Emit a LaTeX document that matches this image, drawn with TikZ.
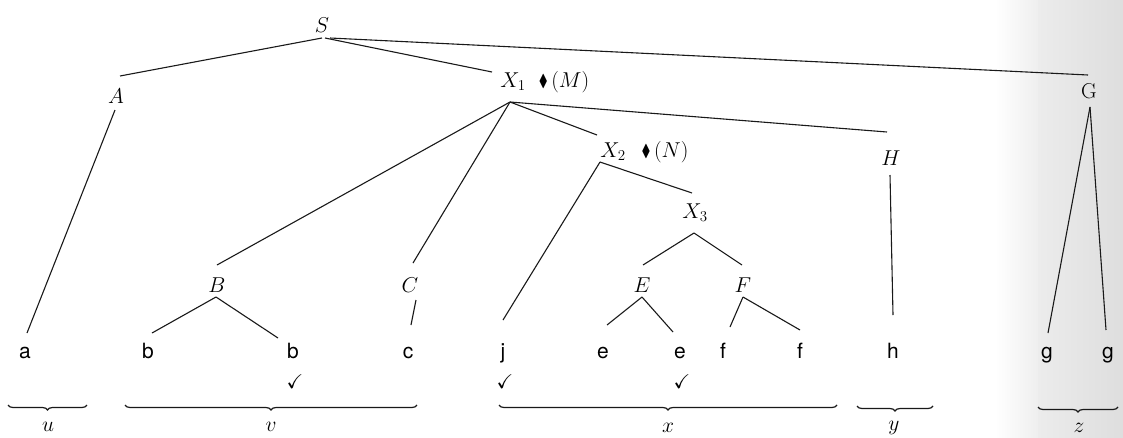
\RequirePackage{fix-cm}
\documentclass[tikz,border=0pt]{standalone}
\usepackage{amssymb}
\usepackage{graphicx}
\usepackage{fontspec}
\newfontfamily\leaffont{TeX Gyre Heros}
\usetikzlibrary{decorations.pathreplacing}
\newcommand{\dia}{\raisebox{0.5pt}{\scalebox{0.62}[0.8]{$\blacklozenge$}}}
\tikzset{
  nt/.style={font=\fontsize{21.5}{25}\selectfont, inner sep=0pt, anchor=base},
  lf/.style={font=\fontsize{21}{25}\selectfont\leaffont, inner sep=0pt, anchor=base},
  chk/.style={font=\fontsize{20}{22}\selectfont, inner sep=0pt, anchor=base},
  edge/.style={line width=1.1pt, black!90},
  brc/.style={decorate, decoration={brace, mirror, amplitude=5pt}, line width=1.2pt, black!90},
}
\begin{document}
\begin{tikzpicture}[x=1pt,y=-1pt]
\useasboundingbox (0,0) rectangle (1123,437);
% scan shading on the right edge
\shade[left color=white, right color=gray!13] (995,0) rectangle (1038,437);
\shade[left color=gray!15, right color=gray!26] (1038,0) rectangle (1123,437);

% nonterminals
\node[nt] (S)  at (322,32)  {$S$};
\node[nt] (A)  at (116,103) {$A$};
\node[nt] (X1) at (513,87)  {$X_1$};
\node[nt] (M)  at (564,87)  {\dia\,$(M)$};
\node[nt] (G)  at (1089,98) {G};
\node[nt] (X2) at (613,157) {$X_2$};
\node[nt] (N)  at (665,157) {\dia\,$(N)$};
\node[nt] (X3) at (695,218) {$X_3$};
\node[nt] (H)  at (891,165) {$H$};
\node[nt] (B)  at (217,292) {$B$};
\node[nt] (C)  at (410,292) {$C$};
\node[nt] (E)  at (642,292) {$E$};
\node[nt] (F)  at (743,292) {$F$};

% leaves
\node[lf] (a)  at (25,358)   {a};
\node[lf] (b1) at (148,358)  {b};
\node[lf] (b2) at (293,358)  {b};
\node[lf] (c)  at (408,358)  {c};
\node[lf] (j)  at (503,358)  {j};
\node[lf] (e1) at (603,358)  {e};
\node[lf] (e2) at (680,358)  {e};
\node[lf] (f1) at (723,358)  {f};
\node[lf] (f2) at (800,358)  {f};
\node[lf] (h)  at (893,358)  {h};
\node[lf] (g1) at (1047,358) {g};
\node[lf] (g2) at (1108,358) {g};

% check marks
\node[chk] (k1) at (295,388) {$\checkmark$};
\node[chk] (k2) at (505,388) {$\checkmark$};
\node[chk] (k3) at (682,388) {$\checkmark$};

% edges
\draw[edge] ([shift={(0pt,-6pt)}]S.base)  -- ([shift={(4pt,27pt)}]A.base);
\draw[edge] ([shift={(3pt,-6pt)}]S.base)  -- ([shift={(-21pt,15pt)}]X1.base);
\draw[edge] ([shift={(8pt,-6pt)}]S.base)  -- ([shift={(-1pt,23pt)}]G.base);
\draw[edge] ([shift={(-1pt,-7pt)}]A.base) -- ([shift={(2pt,25pt)}]a.base);
\draw[edge] ([shift={(-3pt,-15pt)}]X1.base) -- ([shift={(0pt,27pt)}]B.base);
\draw[edge] ([shift={(-3pt,-15pt)}]X1.base) -- ([shift={(3pt,29pt)}]C.base);
\draw[edge] ([shift={(-3pt,-15pt)}]X1.base) -- ([shift={(-16pt,22pt)}]X2.base);
\draw[edge] ([shift={(-3pt,-15pt)}]X1.base) -- ([shift={(-4pt,33pt)}]H.base);
\draw[edge] ([shift={(-13pt,-5pt)}]X2.base) -- ([shift={(0pt,38pt)}]j.base);
\draw[edge] ([shift={(-13pt,-5pt)}]X2.base) -- ([shift={(-3pt,25pt)}]X3.base);
\draw[edge] ([shift={(-1pt,-15pt)}]X3.base) -- ([shift={(1pt,27pt)}]E.base);
\draw[edge] ([shift={(-1pt,-15pt)}]X3.base) -- ([shift={(-1pt,27pt)}]F.base);
\draw[edge] ([shift={(0pt,-5pt)}]E.base) -- ([shift={(4pt,33pt)}]e1.base);
\draw[edge] ([shift={(0pt,-5pt)}]E.base) -- ([shift={(-7pt,26pt)}]e2.base);
\draw[edge] ([shift={(0pt,-5pt)}]F.base) -- ([shift={(7pt,31pt)}]f1.base);
\draw[edge] ([shift={(0pt,-5pt)}]F.base) -- ([shift={(0pt,28pt)}]f2.base);
\draw[edge] ([shift={(-1pt,-10pt)}]H.base) -- ([shift={(0pt,43pt)}]h.base);
\draw[edge] ([shift={(1pt,-9pt)}]G.base) -- ([shift={(1pt,25pt)}]g1.base);
\draw[edge] ([shift={(1pt,-9pt)}]G.base) -- ([shift={(-2pt,28pt)}]g2.base);
\draw[edge] ([shift={(-1pt,-5pt)}]B.base) -- ([shift={(4pt,25pt)}]b1.base);
\draw[edge] ([shift={(-1pt,-5pt)}]B.base) -- ([shift={(-15pt,20pt)}]b2.base);
\draw[edge] ([shift={(6pt,-8pt)}]C.base) -- ([shift={(3pt,33pt)}]c.base);

% braces
\coordinate (u0) at (8,405);    \coordinate (u1) at (87,405);
\coordinate (v0) at (125,405);  \coordinate (v1) at (417,405);
\coordinate (x0) at (499,405);  \coordinate (x1) at (837,405);
\coordinate (y0) at (857,406);  \coordinate (y1) at (933,406);
\coordinate (z0) at (1038,407); \coordinate (z1) at (1118,407);
\draw[brc] (u0) -- (u1);
\draw[brc] (v0) -- (v1);
\draw[brc] (x0) -- (x1);
\draw[brc] (y0) -- (y1);
\draw[brc] (z0) -- (z1);
\node[nt] (lu) at (48,431)   {$u$};
\node[nt] (lv) at (271,431)  {$v$};
\node[nt] (lx) at (668,432)  {$x$};
\node[nt] (ly) at (894,430)  {$y$};
\node[nt] (lz) at (1079,432) {$z$};
\end{tikzpicture}
\end{document}
